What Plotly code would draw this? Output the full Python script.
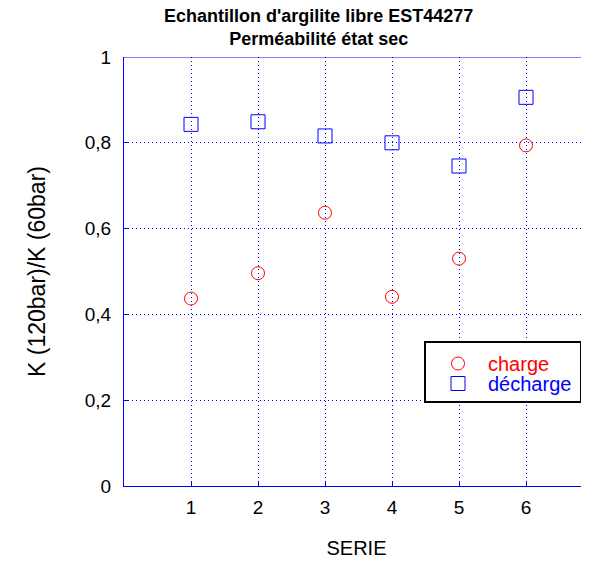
import plotly.graph_objects as go

series = [1, 2, 3, 4, 5, 6]
charge = [0.437, 0.496, 0.637, 0.441, 0.530, 0.794]
decharge = [0.843, 0.849, 0.816, 0.800, 0.746, 0.906]
y_ticks = [0, 0.2, 0.4, 0.6, 0.8, 1]

FONT = "Liberation Sans, Arial, sans-serif"

fig = go.Figure()
fig.add_trace(go.Scatter(
    x=series, y=charge, mode="markers",
    name="<span style='color:#ff0000'>charge</span>", legend="legend",
    marker=dict(symbol="circle-open", size=13, color="red", line=dict(width=1, color="red")),
))
fig.add_trace(go.Scatter(
    x=series, y=decharge, mode="markers",
    name="<span style='color:#0000ff'>décharge</span>", legend="legend2",
    marker=dict(symbol="square-open", size=14, color="blue", line=dict(width=1, color="blue")),
))

xmax = 465 / 67.0
PW, PH = 465.0, 429.0

def px_x(p):
    return (p - 124) / PW

def px_y(p):
    return (486 - p) / PH

fig.add_shape(type="line", xref="x", yref="y", x0=0, x1=xmax, y0=1, y1=1,
              line=dict(color="blue", width=1))
fig.add_shape(type="rect", xref="paper", yref="paper",
              x0=px_x(425), x1=px_x(581), y0=px_y(402), y1=px_y(342),
              line=dict(color="black", width=2), fillcolor="white", layer="above")

fig.add_annotation(
    text="<b>Echantillon d'argilite libre EST44277<br>Perméabilité état sec</b>",
    xref="paper", yref="paper", x=(318 - 124) / PW, y=1, xanchor="center", yanchor="bottom",
    yshift=7, showarrow=False, align="center", borderpad=0,
    font=dict(family=FONT, size=18, color="black"),
)

leg_common = dict(xanchor="left", yanchor="top", bgcolor="rgba(0,0,0,0)",
                  borderwidth=0, font=dict(family=FONT, size=20), itemwidth=50)

fig.update_layout(
    width=581, height=557,
    margin=dict(l=116, r=0, t=49, b=79),
    paper_bgcolor="white", plot_bgcolor="white",
    separators=", ",
    font=dict(family=FONT, size=19, color="black"),
    xaxis=dict(
        range=[0, xmax], tickvals=series, ticktext=[str(s) for s in series],
        showgrid=True, gridcolor="blue", griddash="1px,3px", gridwidth=1,
        showline=True, linecolor="blue", linewidth=1,
        ticks="inside", ticklen=4, tickcolor="blue",
        zeroline=False, ticklabelstandoff=4,
        title=dict(text="SERIE", font=dict(family=FONT, size=20), standoff=24),
        tickfont=dict(family=FONT, size=19),
    ),
    yaxis=dict(
        range=[0, 1], tickvals=y_ticks,
        showgrid=True, gridcolor="blue", griddash="1px,3px", gridwidth=1,
        showline=True, linecolor="blue", linewidth=1,
        ticks="inside", ticklen=4, tickcolor="blue",
        zeroline=False, ticklabelstandoff=8,
        title=dict(text="K (120bar)/K (60bar)", font=dict(family=FONT, size=23), standoff=32),
        tickfont=dict(family=FONT, size=19),
    ),
    legend=dict(x=px_x(428), y=px_y(344), **leg_common),
    legend2=dict(x=px_x(428), y=px_y(364), **leg_common),
    showlegend=True,
)

fig.write_html("out.html")
